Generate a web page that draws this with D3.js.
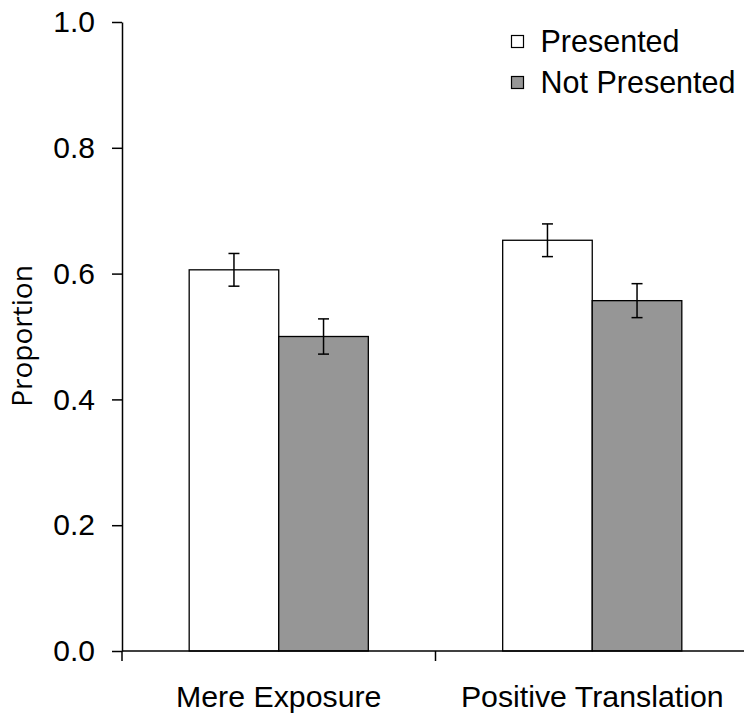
<!DOCTYPE html>
<html>
<head>
<meta charset="utf-8">
<script src="https://cdn.jsdelivr.net/npm/d3@7"></script>
<style>
  html, body { margin: 0; padding: 0; background: #fff; }
  svg { display: block; }
  text { font-family: "Liberation Sans", Arial, sans-serif; fill: #000; }
</style>
</head>
<body>
<svg id="chart" width="744" height="717"></svg>
<script>
const categories = ["Mere Exposure", "Positive Translation"];
const seriesNames = ["Presented", "Not Presented"];
const presented = [0.606, 0.653];
const notPresented = [0.500, 0.557];
const presentedErr = [0.026, 0.026];
const notPresentedErr = [0.028, 0.027];
const yTicks = [0.0, 0.2, 0.4, 0.6, 0.8, 1.0];
const seriesColors = ["#ffffff", "#969696"];

const svg = d3.select("#chart");
const x0 = 122, x1 = 749, yTop = 22, yBot = 651;

const y = d3.scaleLinear().domain([0, 1]).range([yBot, yTop]);
const x = d3.scaleBand().domain(categories).range([x0, x1]).paddingInner(0).paddingOuter(0);
const xs = d3.scaleBand().domain(seriesNames).range([0, x.bandwidth()]).paddingInner(0).paddingOuter(0.75);

const rows = [];
categories.forEach((c, i) => {
  rows.push({cat: c, s: seriesNames[0], v: presented[i], e: presentedErr[i], fill: seriesColors[0]});
  rows.push({cat: c, s: seriesNames[1], v: notPresented[i], e: notPresentedErr[i], fill: seriesColors[1]});
});

// bars
svg.append("g").selectAll("rect").data(rows).join("rect")
  .attr("x", d => x(d.cat) + xs(d.s))
  .attr("y", d => y(d.v))
  .attr("width", xs.bandwidth())
  .attr("height", d => y(0) - y(d.v))
  .attr("fill", d => d.fill)
  .attr("stroke", "#000")
  .attr("stroke-width", 1.3);

// error bars
const eg = svg.append("g").attr("stroke", "#000").attr("stroke-width", 1.5);
rows.forEach(d => {
  const cx = x(d.cat) + xs(d.s) + xs.bandwidth() / 2;
  eg.append("line").attr("x1", cx).attr("x2", cx).attr("y1", y(d.v + d.e)).attr("y2", y(d.v - d.e));
  eg.append("line").attr("x1", cx - 5.5).attr("x2", cx + 5.5).attr("y1", y(d.v + d.e)).attr("y2", y(d.v + d.e));
  eg.append("line").attr("x1", cx - 5.5).attr("x2", cx + 5.5).attr("y1", y(d.v - d.e)).attr("y2", y(d.v - d.e));
});

// y axis
const yAxis = d3.axisLeft(y).tickValues(yTicks).tickFormat(d3.format(".1f")).tickSize(10).tickSizeOuter(0).tickPadding(17);
const gy = svg.append("g").attr("transform", `translate(${x0},0)`).call(yAxis);
gy.select(".domain").attr("stroke", "#000").attr("stroke-width", 1.5);
gy.selectAll(".tick line").attr("stroke", "#000").attr("stroke-width", 1.5);
gy.selectAll(".tick text").style("font-size", "30px").attr("font-family", "Liberation Sans, Arial, sans-serif");

// x axis: ticks at category boundaries
const gx = svg.append("g").attr("transform", `translate(0,${yBot})`);
gx.append("line").attr("x1", x0).attr("x2", x1).attr("stroke", "#000").attr("stroke-width", 1.5);
const bounds = categories.map(c => x(c)).concat([x(categories[categories.length - 1]) + x.bandwidth()]);
gx.selectAll("line.tk").data(bounds).join("line").attr("class", "tk")
  .attr("x1", d => d).attr("x2", d => d).attr("y1", 0).attr("y2", 10)
  .attr("stroke", "#000").attr("stroke-width", 1.5);
gx.selectAll("text").data(categories).join("text")
  .attr("x", d => x(d) + x.bandwidth() / 2)
  .attr("y", 56)
  .attr("text-anchor", "middle")
  .style("font-size", "30.3px")
  .text(d => d);

// y label
svg.append("text")
  .attr("transform", `translate(32,336) rotate(-90)`)
  .attr("text-anchor", "middle")
  .style("font-family", "'Open Sans', 'Noto Sans', sans-serif")
  .style("font-size", "28px")
  .text("Proportion");

// legend
const lg = svg.append("g");
seriesNames.forEach((s, i) => {
  const cy = 41.5 + i * 41;
  lg.append("rect").attr("x", 511.5).attr("y", cy - 6).attr("width", 12).attr("height", 12)
    .attr("fill", seriesColors[i]).attr("stroke", "#000").attr("stroke-width", 1.2);
  lg.append("text").attr("x", 540.5).attr("y", cy).attr("dy", "0.36em")
    .style("font-size", "30.5px").text(s);
});
</script>
</body>
</html>
